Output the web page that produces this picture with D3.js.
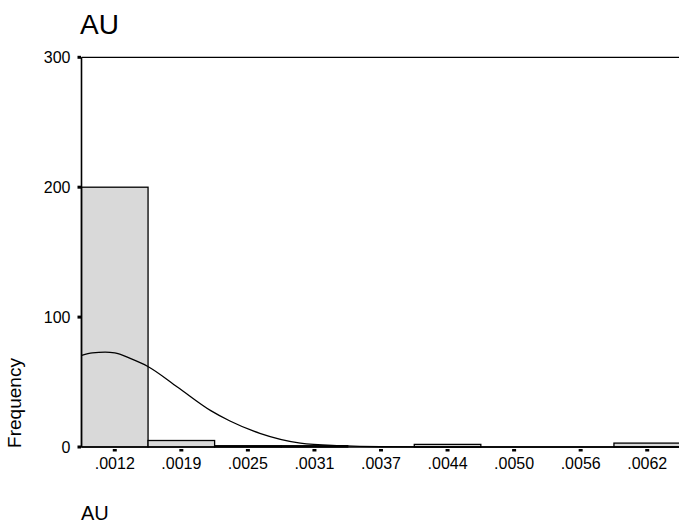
<!DOCTYPE html>
<html>
<head>
<meta charset="utf-8">
<script src="https://cdn.jsdelivr.net/npm/d3@7"></script>
<style>
  html, body { margin: 0; padding: 0; background: #fff; }
  svg { display: block; font-family: "Liberation Sans", Arial, sans-serif; }
</style>
</head>
<body>
<svg id="chart" width="679" height="524"></svg>
<script>
// histogram bins (AU)
const binStart = 0.000928;
const binWidth = 0.000624;
const binLabels = ['.0012', '.0019', '.0025', '.0031', '.0037', '.0044', '.0050', '.0056', '.0062'];
const binCounts = [200, 5, 1, 1, 0, 2, 0, 0, 3];
const yTicks = [0, 100, 200, 300];

// fitted normal curve [AU, frequency]
const curveX = [0.00093, 0.00103, 0.00115, 0.00124, 0.00139, 0.00155, 0.00183, 0.00214, 0.00232, 0.00260, 0.00298, 0.00335, 0.00373, 0.00450, 0.00654];
const curveY = [70.5, 72.5, 73, 72.5, 68, 62, 46, 28, 20, 10.5, 3, 1, 0.2, 0, 0];

const svg = d3.select('#chart');
const plotLeft = 81.5, plotRight = 680.5, plotTop = 57.3, plotBottom = 447;

const xScale = d3.scaleLinear()
  .domain([binStart, binStart + binWidth * binCounts.length])
  .range([plotLeft, plotRight]);
const yScale = d3.scaleLinear()
  .domain([0, 300])
  .range([plotBottom, plotTop]);

svg.append('defs').append('clipPath').attr('id', 'plot')
  .append('rect')
  .attr('x', plotLeft).attr('y', plotTop - 2)
  .attr('width', plotRight - plotLeft).attr('height', plotBottom - plotTop + 4);

// bars
svg.append('g')
  .selectAll('rect')
  .data(binCounts)
  .enter().append('rect')
  .attr('x', (d, i) => xScale(binStart + i * binWidth))
  .attr('y', d => yScale(d))
  .attr('width', xScale(binStart + binWidth) - xScale(binStart))
  .attr('height', d => plotBottom - yScale(d))
  .attr('fill', '#d9d9d9')
  .attr('stroke', '#000')
  .attr('stroke-width', 1.3);

// normal curve
const line = d3.line()
  .x(d => xScale(d[0]))
  .y(d => yScale(d[1]))
  .curve(d3.curveMonotoneX);
svg.append('path')
  .datum(d3.zip(curveX, curveY))
  .attr('clip-path', 'url(#plot)')
  .attr('d', line)
  .attr('fill', 'none')
  .attr('stroke', '#000')
  .attr('stroke-width', 1.3);

// frame: left, top, bottom
svg.append('line')
  .attr('x1', plotLeft).attr('x2', plotLeft).attr('y1', plotTop).attr('y2', plotBottom)
  .attr('stroke', '#000').attr('stroke-width', 1.6);
svg.append('line')
  .attr('x1', plotLeft).attr('x2', 679).attr('y1', plotTop).attr('y2', plotTop)
  .attr('stroke', '#000').attr('stroke-width', 1.3);
svg.append('line')
  .attr('x1', plotLeft).attr('x2', 679).attr('y1', plotBottom).attr('y2', plotBottom)
  .attr('stroke', '#000').attr('stroke-width', 1.6);

// y axis ticks and labels
const yAxis = svg.append('g');
yAxis.selectAll('rect')
  .data(yTicks)
  .enter().append('rect')
  .attr('x', 77.5).attr('y', d => yScale(d) - 1.5)
  .attr('width', 3.5).attr('height', 3)
  .attr('fill', '#000');
yAxis.selectAll('text')
  .data(yTicks)
  .enter().append('text')
  .attr('x', 70.5).attr('y', d => yScale(d) + 6)
  .attr('text-anchor', 'end')
  .attr('font-size', 16)
  .text(d => d);

// x axis ticks and labels at bin centres
const xAxis = svg.append('g');
xAxis.selectAll('rect')
  .data(binLabels)
  .enter().append('rect')
  .attr('x', (d, i) => xScale(binStart + (i + 0.5) * binWidth) - 2)
  .attr('y', 449)
  .attr('width', 4).attr('height', 2.5)
  .attr('fill', '#000');
xAxis.selectAll('text')
  .data(binLabels)
  .enter().append('text')
  .attr('x', (d, i) => xScale(binStart + (i + 0.5) * binWidth))
  .attr('y', 468.5)
  .attr('text-anchor', 'middle')
  .attr('font-size', 16)
  .text(d => d);

// titles
svg.append('text')
  .attr('x', 80).attr('y', 33.5)
  .attr('font-size', 28)
  .text('AU');
svg.append('text')
  .attr('x', 81).attr('y', 520)
  .attr('font-size', 20)
  .text('AU');
svg.append('text')
  .attr('transform', 'translate(21,403) rotate(-90)')
  .attr('text-anchor', 'middle')
  .attr('font-size', 19)
  .text('Frequency');
</script>
</body>
</html>
